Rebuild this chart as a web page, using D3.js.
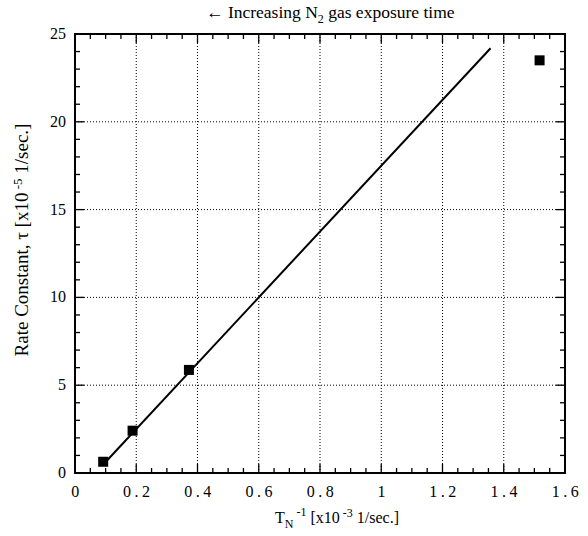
<!DOCTYPE html>
<html lang="en">
<head>
<meta charset="utf-8">
<title>Rate constant vs inverse exposure time</title>
<script src="https://cdn.jsdelivr.net/npm/d3@7"></script>
<style>
  body { margin: 0; background: #fff; }
  text { font-family: "Liberation Serif", "DejaVu Serif", serif; fill: #000; }
</style>
</head>
<body>
<div id="chart"></div>
<script>
// measured points
var xValues = [0.092, 0.188, 0.372, 1.517];
var yValues = [0.64, 2.41, 5.87, 23.5];
// linear fit drawn through the first points
var fitX = [0.09, 1.357];
var fitY = [0.44, 24.19];
var xTicks = [0, 0.2, 0.4, 0.6, 0.8, 1, 1.2, 1.4, 1.6];
var yTicks = [0, 5, 10, 15, 20, 25];

var w = 588, h = 536;
var pLeft = 75, pRight = 565, pTop = 34, pBottom = 473;

var svg = d3.select("#chart").append("svg")
    .attr("width", w)
    .attr("height", h);

var x = d3.scaleLinear().domain([0, 1.6]).range([pLeft, pRight]);
var y = d3.scaleLinear().domain([0, 25]).range([pBottom, pTop]);

// grid (dotted)
svg.append("g").selectAll("line")
    .data(xTicks.slice(1, -1)).enter().append("line")
    .attr("x1", d => x(d)).attr("x2", d => x(d))
    .attr("y1", pTop).attr("y2", pBottom)
    .attr("stroke", "#000").attr("stroke-width", 1)
    .attr("stroke-dasharray", "1,2");
svg.append("g").selectAll("line")
    .data(yTicks.slice(1, -1)).enter().append("line")
    .attr("y1", d => y(d)).attr("y2", d => y(d))
    .attr("x1", pLeft).attr("x2", pRight)
    .attr("stroke", "#000").attr("stroke-width", 1)
    .attr("stroke-dasharray", "1,2");

// inward ticks on all sides
var xMinor = d3.range(0, 1.6001, 0.05);
var yMinor = d3.range(0, 25.001, 1);
function tickLen(v, step) {
    return Math.abs(v / step - Math.round(v / step)) < 1e-6 ? 9 : 5;
}
var ticks = svg.append("g").attr("stroke", "#000").attr("stroke-width", 1.3);
xMinor.forEach(function(v) {
    var L = tickLen(v, 0.2);
    ticks.append("line").attr("x1", x(v)).attr("x2", x(v)).attr("y1", pBottom).attr("y2", pBottom - L);
    ticks.append("line").attr("x1", x(v)).attr("x2", x(v)).attr("y1", pTop).attr("y2", pTop + L);
});
yMinor.forEach(function(v) {
    var L = tickLen(v, 5);
    ticks.append("line").attr("y1", y(v)).attr("y2", y(v)).attr("x1", pLeft).attr("x2", pLeft + L);
    ticks.append("line").attr("y1", y(v)).attr("y2", y(v)).attr("x1", pRight).attr("x2", pRight - L);
});

// frame
svg.append("rect")
    .attr("x", pLeft).attr("y", pTop)
    .attr("width", pRight - pLeft).attr("height", pBottom - pTop)
    .attr("fill", "none").attr("stroke", "#000").attr("stroke-width", 2);

// tick labels
svg.append("g").selectAll("text")
    .data(xTicks).enter().append("text")
    .attr("x", d => x(d) + 2).attr("y", pBottom + 24)
    .attr("text-anchor", "middle")
    .attr("font-size", 16)
    .attr("letter-spacing", "3.5px")
    .text(d => d);
svg.append("g").selectAll("text")
    .data(yTicks).enter().append("text")
    .attr("x", pLeft - 9).attr("y", d => y(d) + 5)
    .attr("text-anchor", "end")
    .attr("font-size", 16)
    .text(d => d);

// fit line
svg.append("line")
    .attr("x1", x(fitX[0])).attr("y1", y(fitY[0]))
    .attr("x2", x(fitX[1])).attr("y2", y(fitY[1]))
    .attr("stroke", "#000").attr("stroke-width", 2);

// markers
var s = 10;
svg.append("g").selectAll("rect")
    .data(xValues).enter().append("rect")
    .attr("x", (d, i) => x(d) - s / 2)
    .attr("y", (d, i) => y(yValues[i]) - s / 2)
    .attr("width", s).attr("height", s)
    .attr("fill", "#000");

// title
var t = svg.append("text")
    .attr("x", 206).attr("y", 18)
    .attr("font-size", 17.5);
t.append("tspan").text("\u2190 Increasing N");
t.append("tspan").attr("dy", 5).attr("font-size", 12).text("2");
t.append("tspan").attr("dy", -5).text(" gas exposure time");

// x axis label
var xl = svg.append("text")
    .attr("x", 275).attr("y", 523)
    .attr("font-size", 16);
xl.append("tspan").text("T");
xl.append("tspan").attr("dy", 5).attr("font-size", 12).text("N");
xl.append("tspan").attr("dy", -12).attr("font-size", 12).text(" -1");
xl.append("tspan").attr("dy", 7).text(" [x10");
xl.append("tspan").attr("dy", -6).attr("font-size", 12).text(" -3");
xl.append("tspan").attr("dy", 6).text(" 1/sec.]");

// y axis label
var yl = svg.append("text")
    .attr("transform", "translate(28,240) rotate(-90)")
    .attr("text-anchor", "middle")
    .attr("font-size", 19);
yl.append("tspan").text("Rate Constant, \u03C4  [x10");
yl.append("tspan").attr("dy", -6).attr("font-size", 13).text(" -5");
yl.append("tspan").attr("dy", 6).text(" 1/sec.]");
</script>
</body>
</html>
